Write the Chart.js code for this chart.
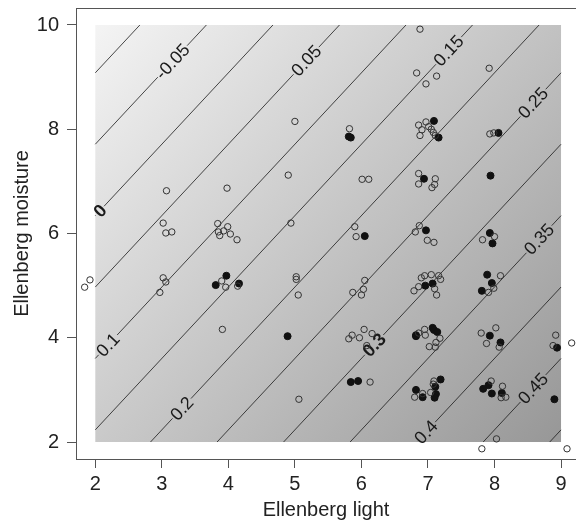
<!DOCTYPE html>
<html>
<head>
<meta charset="utf-8">
<script src="https://cdn.jsdelivr.net/npm/chart.js@4.4.0/dist/chart.umd.min.js"></script>
<style>
    body { margin: 0; background: #fff; }
    #wrap { width: 576px; height: 525px; }
</style>
</head>
<body>
<div id="wrap"><canvas id="chart" width="576" height="525"></canvas></div>
<script>
var xTicks = [2, 3, 4, 5, 6, 7, 8, 9];
var yTicks = [2, 4, 6, 8, 10];

// open circles (light, moisture)
var openLight = [
    1.84, 1.92,
    3.07, 3.02, 3.06, 3.15, 3.02, 3.06, 2.97,
    3.98, 3.84, 3.85, 3.87, 3.93, 3.99, 4.03, 4.13, 3.90, 3.96, 4.14, 3.91,
    4.90, 5.00, 4.94, 5.02, 5.02, 5.05, 5.06,
    5.82, 6.01, 6.11, 5.90, 5.92, 6.05, 6.03, 5.87, 6.00, 5.81, 5.86, 5.97, 6.04, 6.16, 6.08, 6.13,
    6.88, 6.83, 7.13, 6.97, 6.86, 6.97, 6.91, 7.01, 6.88, 7.05, 7.08, 7.11, 6.86, 6.86, 7.11, 7.10, 7.06,
    6.87, 6.81, 6.99, 7.09, 6.90, 6.95, 7.05, 7.16, 7.19, 6.86, 6.79, 7.10, 7.13, 6.86, 6.95, 6.96,
    7.18, 7.12, 7.02, 7.11, 6.80, 6.92, 7.04, 7.08, 7.09,
    7.92, 7.93, 7.99, 7.82, 8.00, 8.09, 7.99, 7.91, 7.80, 8.02, 7.88, 8.07, 7.95, 8.12, 8.10, 8.17, 8.03, 7.81,
    8.92, 8.88, 9.16, 9.09
];
var openMoisture = [
    4.97, 5.11,
    6.82, 6.20, 6.01, 6.03, 5.15, 5.07, 4.87,
    6.87, 6.19, 6.03, 5.96, 6.05, 6.13, 5.99, 5.88, 5.09, 4.97, 4.99, 4.16,
    7.12, 8.15, 6.20, 5.17, 5.12, 4.82, 2.82,
    8.01, 7.04, 7.04, 6.13, 5.94, 5.10, 4.93, 4.87, 4.82, 3.98, 4.05, 4.00, 4.16, 4.08, 3.85, 3.15,
    9.92, 9.08, 9.02, 8.87, 8.08, 8.14, 7.99, 8.05, 7.88, 8.00, 7.94, 7.88, 7.15, 6.95, 7.05, 6.94, 6.88,
    6.15, 6.03, 5.87, 5.83, 5.15, 5.19, 5.21, 5.19, 5.12, 4.98, 4.90, 4.94, 4.82, 4.09, 4.16, 4.05,
    3.99, 3.91, 3.83, 3.82, 2.86, 2.93, 2.95, 3.11, 3.17,
    9.17, 7.91, 7.93, 5.88, 5.94, 5.19, 4.95, 4.87, 4.09, 4.19, 3.89, 3.82, 3.17, 3.07, 2.85, 2.86, 2.06, 1.87,
    4.05, 3.85, 3.90, 1.87
];

// filled circles (light, moisture)
var filledLight = [
    3.81, 3.97, 4.16, 4.89,
    5.81, 5.84, 6.05, 5.84, 5.95,
    7.09, 7.16, 6.94, 6.97, 6.96, 7.07, 6.82, 6.82, 7.07, 7.09, 7.14, 6.82, 6.92, 7.11, 7.19, 7.12, 7.10,
    8.06, 7.94, 7.93, 7.97, 7.89, 7.96, 7.81, 7.93, 8.09, 7.91, 7.83, 7.96, 8.11,
    8.94, 8.90
];
var filledMoisture = [
    5.01, 5.19, 5.04, 4.03,
    7.86, 7.84, 5.95, 3.15, 3.17,
    8.16, 7.84, 7.05, 6.06, 5.00, 5.04, 4.05, 4.03, 4.19, 4.15, 4.11, 3.00, 2.86, 3.06, 3.20, 2.92, 2.85,
    7.93, 7.11, 6.01, 5.81, 5.21, 5.05, 4.90, 4.04, 3.91, 3.09, 3.02, 2.93, 2.94,
    3.81, 2.82
];

// fitted surface: value = intercept + light * slopeLight + moisture * slopeMoist
var surfIntercept = 0.1315;
var surfLight = 0.05;
var surfMoist = -0.0365;
var contourLevels = [-0.1, -0.05, 0, 0.05, 0.1, 0.15, 0.2, 0.25, 0.3, 0.35, 0.4, 0.45, 0.5];
var labelLevels = [-0.05, 0, 0.05, 0.1, 0.15, 0.2, 0.25, 0.3, 0.35, 0.4, 0.45];
var labelLight = [3.16, 2.07, 5.17, 2.19, 7.31, 3.30, 8.58, 6.19, 8.67, 6.97, 8.58];
var boldLevels = [0, 0.3];

Chart.defaults.font.family = '"Liberation Sans", Arial, Helvetica, sans-serif';
Chart.defaults.color = '#222';

function surf(x, y) {
    return surfIntercept + surfLight * x + surfMoist * y;
}
function moistAt(level, x) {
    return (level - surfIntercept - surfLight * x) / surfMoist;
}
function lightAt(level, y) {
    return (level - surfIntercept - surfMoist * y) / surfLight;
}

function toPoints(xs, ys) {
    var pts = [];
    for (var i = 0; i < xs.length; i++) {
        pts.push({x: xs[i], y: ys[i]});
    }
    return pts;
}

var surfacePlugin = {
    id: 'surface',
    beforeDatasetsDraw: function(chart) {
        var ctx = chart.ctx;
        var xs = chart.scales.x, ys = chart.scales.y;
        var xMin = xTicks[0], xMax = xTicks[xTicks.length - 1];
        var yMin = yTicks[0], yMax = yTicks[yTicks.length - 1];
        var left = xs.getPixelForValue(xMin), right = xs.getPixelForValue(xMax);
        var top = ys.getPixelForValue(yMax), bottom = ys.getPixelForValue(yMin);

        // shading follows the surface value
        var ppx = xs.getPixelForValue(1) - xs.getPixelForValue(0);
        var ppy = ys.getPixelForValue(0) - ys.getPixelForValue(1);
        var gx = surfLight / ppx, gy = -surfMoist / ppy;
        var vA = surf(xMin, yMax), vB = surf(xMax, yMin);
        var k = (vB - vA) / (gx * gx + gy * gy);
        var grad = ctx.createLinearGradient(left, top, left + gx * k, top + gy * k);
        grad.addColorStop(0, '#f4f4f4');
        grad.addColorStop(1, '#979797');

        ctx.save();
        ctx.fillStyle = grad;
        ctx.fillRect(left, top, right - left, bottom - top);

        ctx.strokeStyle = '#1a1a1a';
        ctx.lineWidth = 0.8;
        ctx.fillStyle = '#1a1a1a';
        ctx.textAlign = 'center';
        ctx.textBaseline = 'middle';

        contourLevels.forEach(function(level) {
            var xlo = Math.max(xMin, lightAt(level, yMin));
            var xhi = Math.min(xMax, lightAt(level, yMax));
            if (xlo >= xhi) return;
            var ax = xs.getPixelForValue(xlo), ay = ys.getPixelForValue(moistAt(level, xlo));
            var bx = xs.getPixelForValue(xhi), by = ys.getPixelForValue(moistAt(level, xhi));
            var len = Math.hypot(bx - ax, by - ay);
            var dx = (bx - ax) / len, dy = (by - ay) / len;

            var li = -1;
            for (var j = 0; j < labelLevels.length; j++) {
                if (Math.abs(labelLevels[j] - level) < 1e-9) li = j;
            }
            var cuts = [[0, len]];
            var text, px, py;
            if (li >= 0) {
                text = String(labelLevels[li]);
                ctx.font = (boldLevels.indexOf(labelLevels[li]) >= 0 ? 'bold ' : '') +
                    '18px "Liberation Sans", Arial, sans-serif';
                var w = ctx.measureText(text).width;
                px = xs.getPixelForValue(labelLight[li]);
                py = ys.getPixelForValue(moistAt(level, labelLight[li]));
                var t = (px - ax) * dx + (py - ay) * dy;
                cuts = [[0, t - w / 2 - 1], [t + w / 2 + 1, len]];
            }
            cuts.forEach(function(c) {
                var s = Math.max(0, c[0]), e = Math.min(len, c[1]);
                if (e <= s) return;
                ctx.beginPath();
                ctx.moveTo(ax + dx * s, ay + dy * s);
                ctx.lineTo(ax + dx * e, ay + dy * e);
                ctx.stroke();
            });
            if (li >= 0) {
                ctx.save();
                ctx.translate(px, py);
                ctx.rotate(Math.atan2(dy, dx));
                ctx.fillText(text, 0, 1);
                ctx.restore();
            }
        });

        // top edge of the box
        var area = chart.chartArea;
        ctx.strokeStyle = '#555';
        ctx.lineWidth = 1;
        ctx.beginPath();
        ctx.moveTo(area.left, area.top + 0.5);
        ctx.lineTo(area.right, area.top + 0.5);
        ctx.stroke();
        ctx.restore();
    }
};

var ctx = document.getElementById("chart").getContext("2d");
var chart = new Chart(ctx, {
    type: 'scatter',
    data: {
        datasets: [
            {
                label: 'open',
                data: toPoints(openLight, openMoisture),
                pointRadius: 3.2,
                pointBorderWidth: 1,
                borderColor: '#333',
                backgroundColor: 'rgba(0,0,0,0)',
                clip: false
            },
            {
                label: 'filled',
                data: toPoints(filledLight, filledMoisture),
                pointRadius: 3.5,
                pointBorderWidth: 1,
                borderColor: '#111',
                backgroundColor: '#111',
                clip: false
            }
        ]
    },
    options: {
        responsive: false,
        animation: false,
        layout: { autoPadding: false, padding: { top: 8, right: 0, left: 0, bottom: 0 } },
        plugins: {
            legend: { display: false },
            tooltip: { enabled: false }
        },
        scales: {
            x: {
                type: 'linear',
                min: 1.71,
                max: 9.225,
                afterBuildTicks: function(s) { s.ticks = xTicks.map(function(v) { return {value: v}; }); },
                afterFit: function(s) {
                    s.height = 66;
                    s.paddingLeft = 0;
                    s.paddingRight = 0;
                },
                grid: { drawOnChartArea: false, drawTicks: true, tickLength: 9, color: '#555' },
                border: { display: true, color: '#555' },
                ticks: { font: { size: 20 }, padding: 4, maxRotation: 0, color: '#222' },
                title: { display: true, text: 'Ellenberg light', font: { size: 20 }, padding: { top: 0, bottom: 3 }, color: '#222' }
            },
            y: {
                type: 'linear',
                min: 1.674,
                max: 10.326,
                afterBuildTicks: function(s) { s.ticks = yTicks.map(function(v) { return {value: v}; }); },
                afterFit: function(s) {
                    s.width = 76;
                    s.paddingTop = 0;
                    s.paddingBottom = 0;
                },
                grid: { drawOnChartArea: false, drawTicks: true, tickLength: 9, color: '#555' },
                border: { display: true, color: '#555' },
                ticks: { font: { size: 20 }, padding: 8, color: '#222' },
                title: { display: true, text: 'Ellenberg moisture', font: { size: 20 }, padding: { top: 10, bottom: 0 }, color: '#222' }
            }
        }
    },
    plugins: [surfacePlugin]
});
</script>
</body>
</html>
